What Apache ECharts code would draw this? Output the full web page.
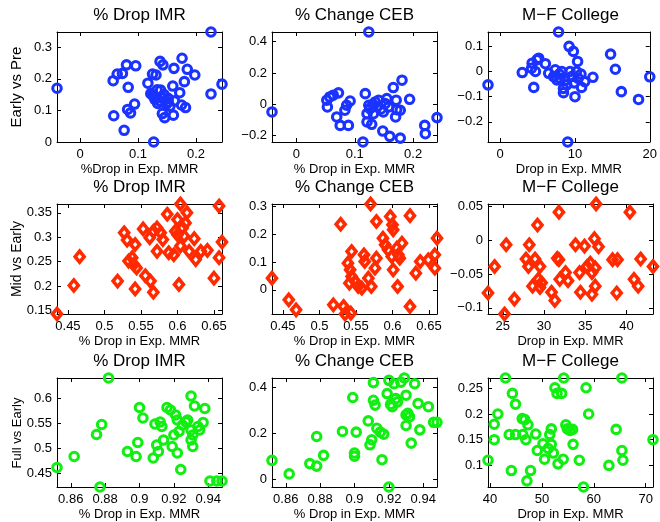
<!DOCTYPE html>
<html><head><meta charset="utf-8">
<script src="https://cdn.jsdelivr.net/npm/echarts@6/dist/echarts.min.js"></script>
<style>html,body{margin:0;padding:0;background:#fff}#c{width:660px;height:522px}</style>
</head><body><div id="c"></div>
<script>
// ---------- DATA ----------
// Row 1: Early vs Pre (blue circles)
const r1c1_x = [0.226,-0.040,0.245,0.127,0.076,0.058,0.087,0.082,0.094,0.083,0.057,0.064,0.073,0.080,0.096,0.117,0.125,0.131,0.138,0.143,0.162,0.176,0.185,0.198,0.180,0.160,0.172,0.139,0.125,0.129,0.140,0.152,0.163,0.175,0.182,0.142,0.146,0.161,0.226,0.152,0.134,0.122,0.155,0.133,0.128,0.137,0.145,0.131,0.149];
const r1c1_y = [0.348,0.170,0.183,0.000,0.037,0.083,0.092,0.103,0.120,0.173,0.194,0.215,0.217,0.244,0.241,0.186,0.215,0.212,0.255,0.244,0.233,0.265,0.230,0.212,0.191,0.177,0.156,0.164,0.148,0.135,0.141,0.138,0.130,0.117,0.109,0.090,0.077,0.085,0.152,0.127,0.122,0.153,0.113,0.165,0.145,0.130,0.150,0.140,0.120];
const r1c2_x = [-0.042,0.124,0.114,0.241,0.052,0.057,0.063,0.072,0.053,0.069,0.075,0.083,0.089,0.092,0.086,0.118,0.124,0.121,0.121,0.129,0.132,0.138,0.141,0.149,0.152,0.158,0.155,0.148,0.160,0.178,0.166,0.181,0.171,0.172,0.178,0.170,0.194,0.220,0.221,0.135,0.126,0.145,0.131];
const r1c2_y = [-0.049,0.462,-0.241,-0.085,0.026,0.047,0.058,0.073,-0.017,-0.081,-0.135,-0.038,-0.135,0.021,-0.006,0.068,-0.006,-0.060,-0.113,-0.128,-0.060,-0.017,0.026,-0.049,0.004,-0.017,0.036,-0.171,-0.205,-0.216,0.107,0.154,0.026,-0.034,-0.038,-0.081,0.032,-0.135,-0.188,0.015,-0.028,-0.030,0.000];
const r1c3_x = [7.80,-1.63,20.0,9.03,2.95,4.49,4.27,4.71,5.15,6.04,7.36,7.14,8.02,8.24,8.46,8.46,9.21,9.78,10.0,9.56,10.35,10.2,10.44,10.88,11.3,12.4,14.76,15.4,16.2,18.5,6.48,7.58,8.9,9.34,4.19,4.93,7.9,8.7,9.9,10.8];
const r1c3_y = [0.157,-0.053,-0.021,-0.280,-0.004,-0.063,0.033,0.0,0.053,0.031,0.007,-0.02,-0.027,0.0,-0.067,-0.084,0.1,0.08,-0.1,-0.02,0.04,0.0,-0.027,-0.063,-0.04,-0.023,0.069,0.009,-0.08,-0.111,-0.007,-0.033,-0.053,0.0,0.013,0.047,-0.01,-0.035,-0.045,-0.01];
// Row 2: Mid vs Early (red diamonds)
const r2c1_x = [0.435,0.458,0.466,0.518,0.527,0.531,0.533,0.538,0.540,0.544,0.542,0.542,0.553,0.556,0.563,0.567,0.562,0.567,0.572,0.577,0.580,0.572,0.586,0.588,0.595,0.600,0.604,0.602,0.597,0.607,0.613,0.611,0.600,0.609,0.604,0.616,0.623,0.625,0.632,0.641,0.650,0.657,0.657,0.661];
const r2c1_y = [0.1425,0.201,0.260,0.210,0.309,0.294,0.251,0.258,0.244,0.237,0.285,0.194,0.317,0.221,0.210,0.187,0.299,0.312,0.319,0.309,0.295,0.271,0.347,0.268,0.264,0.336,0.368,0.203,0.312,0.319,0.350,0.329,0.305,0.302,0.282,0.271,0.297,0.254,0.271,0.273,0.216,0.364,0.258,0.290];
const r2c2_x = [0.435,0.458,0.468,0.519,0.529,0.533,0.535,0.543,0.539,0.544,0.542,0.544,0.541,0.549,0.553,0.558,0.561,0.562,0.567,0.571,0.570,0.576,0.578,0.578,0.587,0.590,0.597,0.600,0.601,0.594,0.599,0.601,0.606,0.608,0.613,0.610,0.607,0.624,0.624,0.632,0.638,0.649,0.658,0.658,0.661];
const r2c2_y = [0.042,-0.036,-0.072,-0.054,0.236,-0.060,-0.087,-0.084,0.096,0.138,0.072,0.048,0.024,0.030,0.012,0.006,0.126,0.102,0.042,0.012,0.309,0.078,0.114,0.246,0.186,0.162,0.264,0.234,0.216,0.144,0.120,0.072,0.150,0.126,0.168,0.114,0.012,0.267,-0.060,0.060,0.102,0.108,0.126,0.078,0.186];
const r2c3_x = [23.2,24.0,25.2,25.4,26.4,29.2,28.2,27.8,28.1,28.9,29.5,28.6,29.3,29.7,29.5,30.9,31.3,31.6,31.8,31.8,31.9,32.6,32.9,33.8,34.4,34.3,34.9,35.2,35.6,35.8,35.8,36.1,36.3,36.6,36.2,38.3,38.9,38.8,40.4,40.9,41.4,41.7,43.2,36.2];
const r2c3_y = [-0.078,-0.039,-0.109,-0.007,-0.087,0.022,-0.007,-0.028,-0.039,-0.028,-0.039,-0.068,-0.058,-0.063,-0.070,-0.077,-0.089,-0.027,-0.029,0.041,-0.058,-0.048,-0.060,-0.007,-0.077,-0.048,-0.009,-0.039,-0.034,-0.048,-0.080,0.002,0.053,-0.010,-0.068,-0.029,-0.029,-0.078,0.041,-0.058,-0.068,-0.028,-0.039,-0.041];
// Row 3: Full vs Early (green circles)
const r3c1_x = [0.852,0.862,0.875,0.878,0.882,0.877,0.893,0.898,0.899,0.900,0.902,0.908,0.909,0.910,0.911,0.912,0.913,0.914,0.916,0.918,0.919,0.920,0.921,0.922,0.923,0.922,0.924,0.925,0.927,0.928,0.930,0.930,0.931,0.930,0.932,0.934,0.935,0.937,0.938,0.941,0.945,0.948,0.931];
const r3c1_y = [0.461,0.483,0.527,0.547,0.640,0.422,0.493,0.483,0.511,0.581,0.560,0.480,0.548,0.506,0.493,0.552,0.543,0.516,0.581,0.576,0.503,0.526,0.566,0.556,0.533,0.490,0.457,0.546,0.552,0.556,0.536,0.516,0.503,0.604,0.584,0.543,0.536,0.551,0.579,0.434,0.434,0.434,0.526];
const r3c2_x = [0.852,0.862,0.874,0.878,0.878,0.882,0.893,0.899,0.900,0.901,0.900,0.908,0.909,0.910,0.911,0.911,0.912,0.913,0.915,0.916,0.917,0.919,0.920,0.921,0.922,0.923,0.924,0.925,0.920,0.927,0.929,0.930,0.930,0.930,0.932,0.933,0.935,0.937,0.938,0.943,0.946,0.948,0.931];
const r3c2_y = [0.083,0.024,0.069,0.058,0.187,0.105,0.209,0.357,0.101,0.206,0.115,0.255,0.151,0.173,0.422,0.345,0.324,0.223,0.206,0.086,0.197,0.374,0.432,0.327,0.317,0.417,0.352,0.338,-0.033,0.424,0.442,0.367,0.281,0.235,0.273,0.158,0.417,0.331,0.216,0.317,0.249,0.249,0.288];
const r3c3_x = [39.6,40.8,40.8,41.5,42.97,43.7,44.1,44.3,44.9,44.9,46.2,46.7,46.3,46.9,47.1,47.3,47.8,48.8,49.1,50.2,50.5,51.2,51.5,51.8,51.8,52.2,52.5,52.9,53.1,53.8,54.1,54.2,54.6,54.9,55.4,55.9,56.0,57.2,58.0,58.5,59.0,62.9,64.3,65.4,65.4,65.6,71.4];
const r3c3_y = [0.110,0.150,0.180,0.200,0.270,0.160,0.090,0.240,0.219,0.160,0.191,0.189,0.160,0.150,0.070,0.179,0.090,0.161,0.129,0.142,0.112,0.133,0.160,0.171,0.141,0.124,0.251,0.240,0.103,0.240,0.112,0.270,0.179,0.171,0.168,0.170,0.141,0.110,0.058,0.251,0.200,0.100,0.170,0.270,0.129,0.110,0.150];

// Tick values
const ticks_r1_x = [0, 0.1, 0.2];
const ticks_r1_x3 = [0, 10, 20];
const ticks_r2_x = [0.45, 0.5, 0.55, 0.6, 0.65];
const ticks_r2_x3 = [25, 30, 35, 40];
const ticks_r3_x = [0.86, 0.88, 0.9, 0.92, 0.94];
const ticks_r3_x3 = [40, 50, 60, 70];
const ticks_r1c1_y = [0, 0.1, 0.2, 0.3];
const ticks_r1c2_y = [-0.2, 0, 0.2, 0.4];
const ticks_r1c3_y = [-0.2, -0.1, 0, 0.1];
const ticks_r2c1_y = [0.15, 0.2, 0.25, 0.3, 0.35];
const ticks_r2c2_y = [0, 0.1, 0.2, 0.3];
const ticks_r2c3_y = [-0.1, -0.05, 0, 0.05];
const ticks_r3c1_y = [0.45, 0.5, 0.55, 0.6];
const ticks_r3c2_y = [0, 0.2, 0.4];
const ticks_r3c3_y = [0.1, 0.15, 0.2, 0.25];

const titles = ['% Drop IMR', '% Change CEB', 'M\u2212F College'];
const rowNames = ['Early vs Pre', 'Mid vs Early', 'Full vs Early'];
const xNames = [
  ['%Drop in Exp. MMR', '% Drop in Exp. MMR', 'Drop in Exp. MMR'],
  ['% Drop in Exp. MMR', '% Drop in Exp. MMR', 'Drop in Exp. MMR'],
  ['% Drop in Exp. MMR', '% Drop in Exp. MMR', 'Drop in Exp. MMR']
];

// ---------- LAYOUT / STYLE ----------
const FONT = '"Liberation Sans", Arial, Helvetica, sans-serif';
const BLUE = '#1a33ff', RED = '#ff2a00', GREEN = '#11ee11';
const colLeft = [57, 272, 488];
const rowTop = [32, 204, 378];
const W = 165, H = 110;
const rowYNameSize = [15, 14, 13];

const panels = [
  {x:r1c1_x, y:r1c1_y, xt:ticks_r1_x,  yt:ticks_r1c1_y},
  {x:r1c2_x, y:r1c2_y, xt:ticks_r1_x,  yt:ticks_r1c2_y},
  {x:r1c3_x, y:r1c3_y, xt:ticks_r1_x3, yt:ticks_r1c3_y},
  {x:r2c1_x, y:r2c1_y, xt:ticks_r2_x,  yt:ticks_r2c1_y},
  {x:r2c2_x, y:r2c2_y, xt:ticks_r2_x,  yt:ticks_r2c2_y},
  {x:r2c3_x, y:r2c3_y, xt:ticks_r2_x3, yt:ticks_r2c3_y},
  {x:r3c1_x, y:r3c1_y, xt:ticks_r3_x,  yt:ticks_r3c1_y},
  {x:r3c2_x, y:r3c2_y, xt:ticks_r3_x,  yt:ticks_r3c2_y},
  {x:r3c3_x, y:r3c3_y, xt:ticks_r3_x3, yt:ticks_r3c3_y}
];

function fmt(v) {
  const s = String(Math.round(Math.abs(v) * 10000) / 10000);
  return v < 0 ? '\u2212' + s : s;
}

function mkAxis(gi, pos, min, max, ticks, showLabel, extra) {
  return Object.assign({
    type: 'value', gridIndex: gi, position: pos, min: min, max: max,
    axisLine: {show: true, onZero: false, lineStyle: {color: '#000', width: 1}},
    axisTick: {show: true, inside: true, length: 4, customValues: ticks, lineStyle: {color: '#000', width: 1}},
    axisLabel: {show: showLabel, customValues: ticks, margin: (pos === 'left') ? 5 : 6,
      fontSize: 13, color: '#000', fontFamily: FONT, formatter: fmt},
    splitLine: {show: false}
  }, extra || {});
}

const grids = [], xAxes = [], yAxes = [], series = [], graphics = [];
panels.forEach((p, i) => {
  const r = Math.floor(i / 3), c = i % 3;
  grids.push({left: colLeft[c], top: rowTop[r], width: W, height: H});
  const xmin = Math.min(...p.x), xmax = Math.max(...p.x);
  const ymin = Math.min(...p.y), ymax = Math.max(...p.y);
  xAxes.push(mkAxis(i, 'bottom', xmin, xmax, p.xt, true, {
    name: xNames[r][c], nameLocation: 'middle', nameGap: 21,
    nameTextStyle: {fontSize: 13, color: '#000', fontFamily: FONT}
  }));
  xAxes.push(mkAxis(i, 'top', xmin, xmax, p.xt, false));
  yAxes.push(mkAxis(i, 'left', ymin, ymax, p.yt, true));
  yAxes.push(mkAxis(i, 'right', ymin, ymax, p.yt, false));
  const color = r === 0 ? BLUE : (r === 1 ? RED : GREEN);
  const isDiamond = r === 1;
  series.push({
    type: 'scatter', xAxisIndex: 2 * i, yAxisIndex: 2 * i,
    data: p.x.map((v, k) => [v, p.y[k]]),
    symbol: isDiamond ? 'diamond' : 'circle',
    symbolSize: isDiamond ? [9, 11] : 8.5,
    clip: false, silent: true,
    itemStyle: {color: 'rgba(0,0,0,0)', borderColor: color, borderWidth: isDiamond ? 3.6 : 3.1, opacity: 1},
    emphasis: {disabled: true}
  });
  graphics.push({
    type: 'text', x: colLeft[c] + W / 2, y: rowTop[r] - 17,
    style: {text: titles[c], font: '17px ' + FONT, fill: '#000', textAlign: 'center', textVerticalAlign: 'middle', verticalAlign: 'middle'}
  });
});
rowNames.forEach((t, r) => {
  graphics.push({
    type: 'text', x: 17, y: rowTop[r] + H / 2, rotation: Math.PI / 2,
    style: {text: t, font: rowYNameSize[r] + 'px ' + FONT, fill: '#000', textAlign: 'center', textVerticalAlign: 'middle', verticalAlign: 'middle'}
  });
});

const chart = echarts.init(document.getElementById('c'), null, {renderer: 'canvas'});
chart.setOption({
  animation: false,
  backgroundColor: '#fff',
  grid: grids, xAxis: xAxes, yAxis: yAxes, series: series,
  graphic: graphics
});
</script></body></html>
